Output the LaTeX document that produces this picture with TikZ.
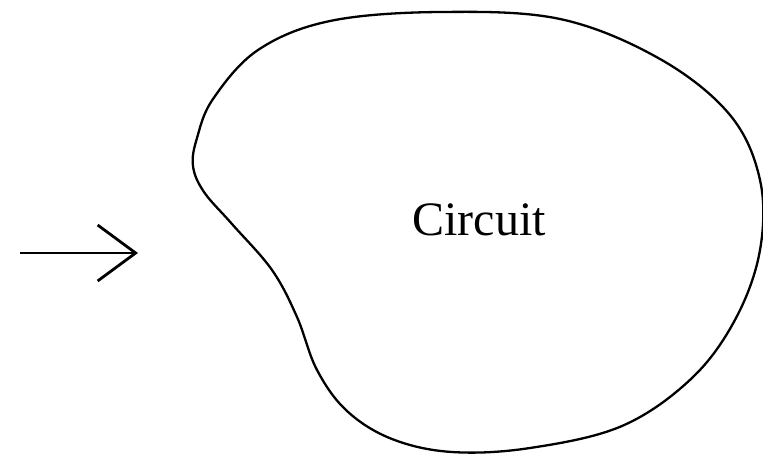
\documentclass[tikz,border=0pt]{standalone}
\usepackage{fontspec}
\setmainfont{Liberation Serif}
\usetikzlibrary{positioning, arrows.meta}

\begin{document}
\begin{tikzpicture}[
  x=1pt, y=-1pt,
  outline/.style={draw, line width=2.3pt, line join=round},
  arrow/.style={-{Straight Barb[length=38pt, width=56pt]}, line width=2.8pt}
]
\useasboundingbox[fill=white] (0,0) rectangle (763,455);

% the circuit blob
\draw[outline] plot[smooth cycle, tension=0.6] coordinates {
  (197,138) (213,99) (258,50) (330,21) (440,12) (560,19) (660,59)
  (730,115) (760,180) (760,250) (736,318) (692,378) (622,426)
  (530,448) (452,452) (392,439) (347,411) (317,370) (297,317)
  (272,270) (232,224) (204,192) (193,166)};
\node[font=\fontsize{48}{56}\selectfont] (circ) at (479,220) {Circuit};

% input arrow
\coordinate (src) at (20,253);
\coordinate (tip) at (138,253);
\draw[arrow] (src) -- (tip);

\end{tikzpicture}
\end{document}
